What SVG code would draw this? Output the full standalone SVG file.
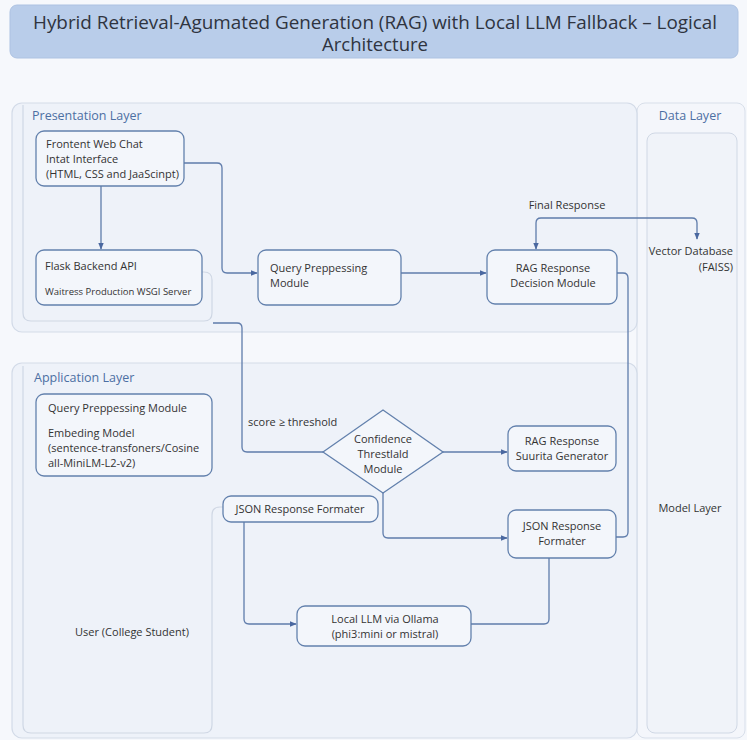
<svg xmlns="http://www.w3.org/2000/svg" width="747" height="740" viewBox="0 0 747 740">
<defs>
<style>
text{font-family:"Open Sans","Noto Sans","Liberation Sans",sans-serif;fill:#333;font-size:11px}
.layer{fill:#eef2f9;stroke:#d3dbe8;stroke-width:1.2}
.inner{fill:none;stroke:#cfd7e4;stroke-width:1.2}
.box{fill:#f3f6fb;stroke:#6381ad;stroke-width:1.3}
.lt{fill:#4c6fa3;font-size:12.5px}
.c{text-anchor:middle}
.conn path{fill:none;stroke:#5f7cab;stroke-width:1.3}
.arr{marker-end:url(#ah)}
</style>
<marker id="ah" viewBox="0 0 10 10" refX="9" refY="5" markerWidth="7" markerHeight="7" orient="auto-start-reverse" markerUnits="userSpaceOnUse">
<path d="M0,1 L10,5 L0,9 z" fill="#4a68a0"/>
</marker>
</defs>
<rect width="747" height="740" fill="#f6f8fc"/>
<g id="title">
<rect x="10" y="5" width="728" height="53" rx="7" fill="#b9cdea" stroke="#adc2e2"/>
<text x="375" y="29" class="c" style="font-size:18px;fill:#2f3440" textLength="684" lengthAdjust="spacingAndGlyphs">Hybrid Retrieval-Agumated Generation (RAG) with Local  LLM Fallback – Logical</text>
<text x="375" y="51" class="c" style="font-size:18px;fill:#2f3440" textLength="106" lengthAdjust="spacingAndGlyphs">Architecture</text>
</g>
<g id="data-layer">
<rect x="637" y="103" width="108" height="635" rx="8" fill="#f4f6fb" stroke="#d8dfea"/>
<rect x="647" y="133" width="90" height="600" rx="8" fill="#f0f3f9" stroke="#d0d8e5"/>
<text x="690" y="120" class="c lt">Data Layer</text>
</g>
<g id="presentation-layer">
<rect x="12" y="103" width="625" height="229" rx="10" class="layer"/>
<path class="inner" d="M23,105 V313 Q23,321 31,321 H204 Q212,321 212,313 V280 Q212,272 204,272 H202"/>
<text x="32" y="120" class="lt">Presentation Layer</text>
</g>
<g id="application-layer">
<rect x="12" y="363" width="625" height="375" rx="10" class="layer"/>
<path class="inner" d="M23,366 V725 Q23,733 31,733 H204 Q212,733 212,725 V515 Q212,507 220,507 H223"/>
<text x="34" y="382" class="lt">Application Layer</text>
</g>
<g id="frontend">
<rect x="36" y="131" width="148" height="55" rx="8" class="box"/>
<text x="46" y="148">Frontent Web Chat</text>
<text x="46" y="163">Intat Interface</text>
<text x="46" y="178">(HTML, CSS and JaaScinpt)</text>
</g>
<g id="flask">
<rect x="36" y="250" width="166" height="55" rx="8" class="box"/>
<text x="45" y="270">Flask Backend API</text>
<text x="45" y="295" style="font-size:9.5px">Waitress Production WSGI Server</text>
</g>
<g id="query-top">
<rect x="258" y="250" width="143" height="55" rx="8" class="box"/>
<text x="270" y="272">Query Preppessing</text>
<text x="270" y="287">Module</text>
</g>
<g id="rag-decision">
<rect x="487" y="250" width="130" height="54" rx="8" class="box"/>
<text x="553" y="272" class="c">RAG Response</text>
<text x="553" y="287" class="c">Decision Module</text>
</g>
<g id="vector-db">
<text x="733" y="255" text-anchor="end">Vector Database</text>
<text x="733" y="271" text-anchor="end">(FAISS)</text>
</g>
<g id="model-layer">
<text x="690" y="512" class="c">Model Layer</text>
</g>
<g id="query-app">
<rect x="36" y="394" width="176" height="82" rx="8" class="box"/>
<text x="48" y="412">Query Preppessing Module</text>
<text x="48" y="437">Embeding Model</text>
<text x="48" y="452">(sentence-transfoners/Cosine</text>
<text x="48" y="467">all-MiniLM-L2-v2)</text>
</g>
<g id="confidence">
<polygon points="323,452 383,410 443,452 383,493" fill="#f3f6fb" stroke="#6381ad" stroke-width="1.3"/>
<text x="383" y="443" class="c">Confidence</text>
<text x="383" y="458" class="c">Threstlald</text>
<text x="383" y="473" class="c">Module</text>
</g>
<g id="rag-generator">
<rect x="508" y="426" width="108" height="45" rx="8" class="box"/>
<text x="562" y="445" class="c">RAG Response</text>
<text x="562" y="460" class="c">Suurita Generator</text>
</g>
<g id="json-left">
<rect x="223" y="496" width="155" height="26" rx="8" class="box"/>
<text x="300" y="513" class="c">JSON Response Formater</text>
</g>
<g id="json-right">
<rect x="508" y="510" width="108" height="48" rx="8" class="box"/>
<text x="562" y="530" class="c">JSON Response</text>
<text x="562" y="545" class="c">Formater</text>
</g>
<g id="local-llm">
<rect x="297" y="606" width="174" height="40" rx="8" class="box"/>
<text x="385" y="623" class="c">Local LLM via Ollama</text>
<text x="385" y="638" class="c">(phi3:mini or mistral)</text>
</g>
<g id="user">
<text x="132" y="636" class="c">User (College Student)</text>
</g>
<g id="connectors" class="conn">
<path class="arr" d="M101,186 V249"/>
<path class="arr" d="M184,163 H217 Q222,163 222,168 V268 Q222,273 227,273 H257"/>
<path class="arr" d="M401,273 H486"/>
<path class="arr" style="marker-start:url(#ah)" d="M536,249 V223 Q536,218 541,218 H692 Q697,218 697,223 V239"/>
<path d="M617,273 H623 Q628,273 628,278 V532 Q628,537 623,537 H616"/>
<path d="M213,323 H237 Q242,323 242,328 V447 Q242,452 247,452 H323"/>
<path class="arr" d="M443,452 H507"/>
<path class="arr" d="M383,493 V533 Q383,538 388,538 H507"/>
<path class="arr" d="M244,522 V619 Q244,624 249,624 H296"/>
<path d="M471,624 H544 Q549,624 549,619 V558"/>
</g>
<g id="labels">
<text x="567" y="209" class="c">Final Response</text>
<text x="248" y="426">score ≥ threshold</text>
</g>
</svg>
